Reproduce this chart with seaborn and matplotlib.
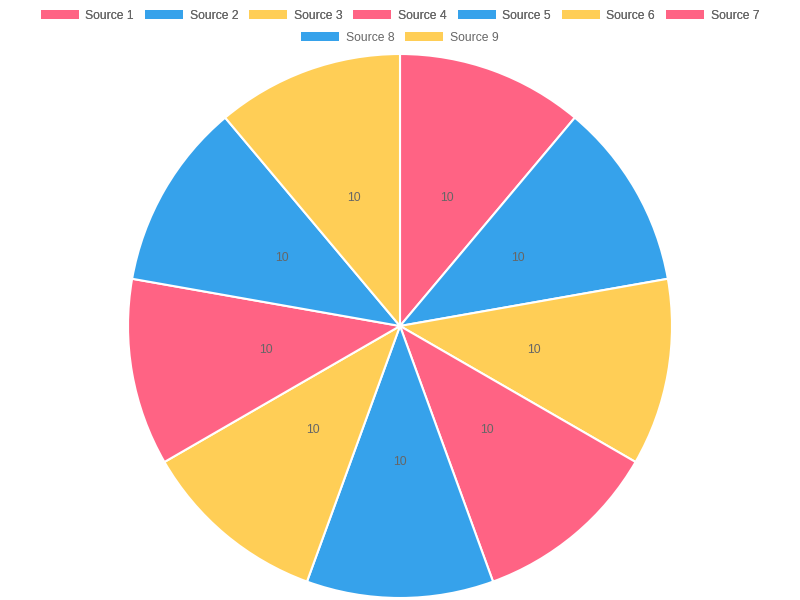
import matplotlib
matplotlib.use("Agg")
import matplotlib.pyplot as plt
from matplotlib.patches import Patch
import seaborn as sns

sources = ["Source 1", "Source 2", "Source 3", "Source 4", "Source 5",
           "Source 6", "Source 7", "Source 8", "Source 9"]
values = [10, 10, 10, 10, 10, 10, 10, 10, 10]
base_colors = ["#FF6384", "#36A2EB", "#FFCE56"]

sns.set_style("white")
plt.rcParams["font.family"] = ["Liberation Sans", "DejaVu Sans"]

palette = sns.color_palette(base_colors * 3)

fig = plt.figure(figsize=(8, 6), dpi=100)
ax = fig.add_axes([128 / 800, 2 / 600, 544 / 800, 544 / 600])

wedges, texts, autotexts = ax.pie(
    values, colors=palette, startangle=90, counterclock=False,
    autopct=lambda p: f"{p * sum(values) / 100:.0f}", pctdistance=0.5,
    wedgeprops=dict(edgecolor="white", linewidth=1.5),
    textprops=dict(color="#666666", fontsize=8.8))
ax.set_xlim(-1.0, 1.0)
ax.set_ylim(-1.0, 1.0)
ax.set_aspect("equal")
ax.axis("off")

handles = [Patch(facecolor=c, edgecolor="none") for c in palette]
leg_kw = dict(frameon=False, fontsize=8.7, handlelength=3.15, handleheight=0.8,
              handletextpad=0.55, columnspacing=0.9, borderpad=0, labelcolor="#666666")
leg1 = fig.legend(handles[:7], sources[:7], ncol=7, loc="center",
                  bbox_to_anchor=(0.5, 1 - 16 / 600), **leg_kw)
fig.add_artist(leg1)
fig.legend(handles[7:], sources[7:], ncol=2, loc="center",
           bbox_to_anchor=(0.5, 1 - 38 / 600), **leg_kw)

fig.savefig("out.png", dpi=100)
